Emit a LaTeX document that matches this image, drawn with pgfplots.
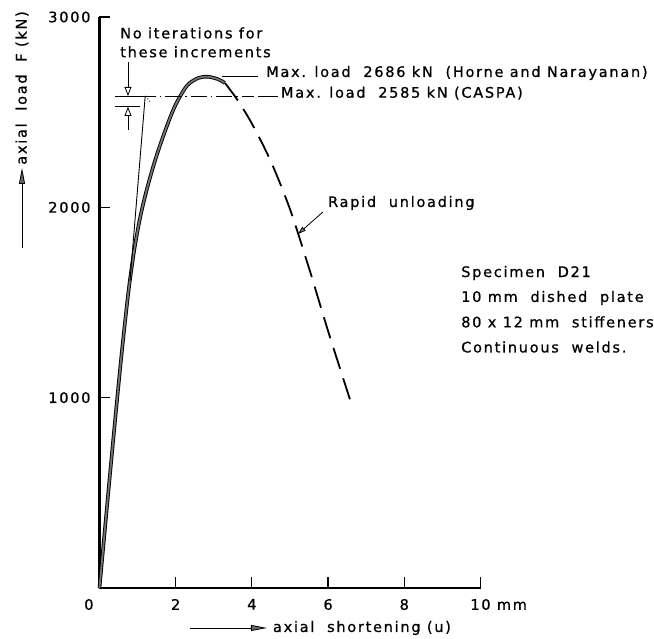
\documentclass[border=0pt]{standalone}
\usepackage{fontspec}
\setmainfont{DejaVu Sans}[LetterSpace=12, FakeBold=0.8]
\usepackage{pgfplots}
\pgfplotsset{compat=1.18}
\usetikzlibrary{arrows.meta}
\begin{document}
\fontsize{14.5}{17}\selectfont
\begin{tikzpicture}
\useasboundingbox (-99.5pt,-50pt) rectangle (554.5pt,588pt);
\begin{axis}[
    scale only axis,
    width=381pt, height=571pt,
    xmin=0, xmax=10, ymin=0, ymax=3000,
    axis lines=left,
    axis line style={-, line width=2.2pt},
    tick align=inside,
    major tick length=11pt,
    tick style={line width=1.2pt, black},
    xtick={0,2,4,6,8,10},
    xticklabels={{\llap{0\hspace{6pt}}},2,4,6,8,{10\rlap{\ mm}}},
    ytick={1000,2000,3000},
    scaled ticks=false,
    /pgf/number format/assume math mode=true,
    /pgf/number format/set thousands separator={},
    xticklabel style={yshift=-6pt},
    yticklabel style={xshift=-4pt},
    clip=false,
]

% Horne and Narayanan, loading branch (thick)
\addplot[black, line width=0.9pt, double=black!55, double distance=1.8pt, smooth, tension=0.5] coordinates {
    (0,0) (0.3,650) (0.55,1170) (0.75,1540) (0.9,1760) (1.06,1940)
    (1.25,2100) (1.48,2260) (1.76,2422) (2.0,2540) (2.3,2640)
    (2.6,2680) (2.85,2686) (3.1,2674) (3.29,2654)
};

% rapid unloading (dashed)
\addplot[black, line width=1.8pt, dash pattern=on 22pt off 10pt, smooth] coordinates {
    (3.29,2654) (3.6,2570) (4.0,2440) (4.5,2240) (5.0,1990)
    (5.5,1680) (6.0,1350) (6.62,962)
};

% CASPA branch (thin)
\addplot[black, line width=0.9pt] coordinates {(0.8,1613) (1.2,2585)};
\addplot[black, line width=0.9pt, dotted] coordinates {(1.22,2585) (1.32,2555)};

% max load 2585 line
\addplot[black, line width=0.8pt] coordinates {(0.407,2585) (1.063,2585)};
\addplot[black, line width=0.8pt, dash pattern=on 16pt off 4pt on 1.5pt off 4pt] coordinates {(1.063,2585) (4.05,2585)};
\addplot[black, line width=0.8pt] coordinates {(4.16,2585) (4.69,2585)};
\addplot[black, line width=0.8pt] coordinates {(0.407,2528) (1.063,2528)};

% annotations
\draw[line width=0.8pt, -{Triangle[open, length=9pt, width=7pt]}] (axis cs:0.748,2764) -- (axis cs:0.748,2585);
\draw[line width=0.8pt, -{Triangle[open, length=9pt, width=7pt]}] (axis cs:0.748,2407) -- (axis cs:0.748,2528);
\node[anchor=west, inner sep=0pt] at (axis cs:0.54,2916) {No iterations for};
\node[anchor=west, inner sep=0pt] at (axis cs:0.54,2817) {these increments};

\draw[line width=0.8pt] (axis cs:3.215,2690) -- (axis cs:4.16,2690);
\node[anchor=west, inner sep=0pt] at (axis cs:4.37,2706) {Max. load\ \ 2686 kN\ \ (Horne and Narayanan)};
\node[anchor=west, inner sep=0pt] at (axis cs:4.76,2600) {Max. load\ \ 2585 kN (CASPA)};

\draw[line width=0.8pt, -{Triangle[length=8pt, width=5pt, fill=gray]}] (axis cs:5.866,1976) -- (axis cs:5.21,1860);
\node[anchor=west, inner sep=0pt] at (axis cs:5.995,2023) {Rapid\ \ unloading};

\node[anchor=west, inner sep=0pt] at (axis cs:9.49,1655) {Specimen\ \ D21};
\node[anchor=west, inner sep=0pt] at (axis cs:9.49,1524) {10 mm\ \ dished\ \ plate};
\node[anchor=west, inner sep=0pt] at (axis cs:9.49,1398) {80 x 12 mm\ \ stiffeners};
\node[anchor=west, inner sep=0pt] at (axis cs:9.49,1266) {Continuous\ \ welds.};

% axis labels
\draw[line width=0.8pt, -{Triangle[length=16pt, width=6pt, fill=black!60]}] (axis cs:2.375,-210) -- (axis cs:4.396,-210);
\node[anchor=west, inner sep=0pt] at (axis cs:4.55,-210) {axial\ \ shortening (u)};
\draw[line width=0.8pt, -{Triangle[length=16pt, width=6pt, fill=black!60]}] (axis cs:-2.034,1787) -- (axis cs:-2.034,2207);
\node[rotate=90, anchor=west, inner sep=0pt] at (axis cs:-2.034,2223) {axial\ \ load\ \ F (kN)};

\end{axis}
\end{tikzpicture}
\end{document}
